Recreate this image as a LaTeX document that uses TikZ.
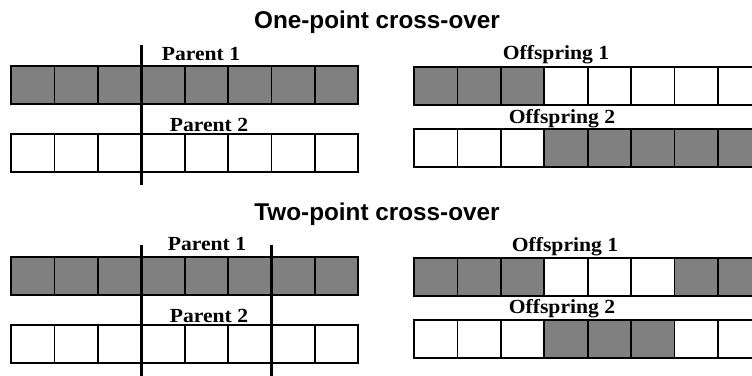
\documentclass[tikz,border=0pt]{standalone}
\usepackage{fontspec}
\setmainfont{Liberation Serif}
\setsansfont{Liberation Sans}
\newfontfamily\lblfont{Liberation Serif}[FakeStretch=1.08]
\usetikzlibrary{positioning}

\tikzset{
  gene/.style={draw=black, line width=1.8pt, inner sep=0pt, outer sep=0pt, minimum width=43.4pt, minimum height=38pt, anchor=north west},
  gene1/.style={gene, fill=gray},
  gene0/.style={gene, fill=white},
  cut/.style={line width=3pt, black},
  lbl/.style={font=\lblfont\bfseries\fontsize{20}{20}\selectfont, anchor=base, inner sep=0pt},
  ttl/.style={font=\sffamily\bfseries\fontsize{24.3}{25}\selectfont, anchor=base, inner sep=0pt}
}

% one chromosome: name, x and y of its top left corner, genes
\newcommand{\chrom}[4]{
  \foreach \g [count=\i from 0] in {#4}
    \node[gene\g] (#1-\i) at ({#2+\i*43.4},#3) {};
}

\begin{document}
\begin{tikzpicture}[x=1pt, y=-1pt]
\clip (0,0) rectangle (752,375);
\fill[white] (0,0) rectangle (752,375);
% one-point
\node[ttl] (onept) at (377,28) {One-point cross-over};
\chrom{pa}{11}{66}{1,1,1,1,1,1,1,1}
\chrom{pb}{11}{134}{0,0,0,0,0,0,0,0}
\chrom{oa}{414}{67}{1,1,1,0,0,0,0,0}
\chrom{ob}{414}{129}{0,0,0,1,1,1,1,1}
\node[lbl] (pa-lbl) at (201,60) {Parent 1};
\node[lbl] (pb-lbl) at (209,131) {Parent 2};
\node[lbl] (oa-lbl) at (556,59) {Offspring 1};
\node[lbl] (ob-lbl) at (562,123) {Offspring 2};
\draw[cut] ([yshift=21pt]pa-3.north west) -- ([yshift=-13pt]pb-3.south west);
% two-point
\node[ttl] (twopt) at (377,220) {Two-point cross-over};
\chrom{pc}{11}{257}{1,1,1,1,1,1,1,1}
\chrom{pd}{11}{325}{0,0,0,0,0,0,0,0}
\chrom{oc}{414}{258}{1,1,1,0,0,0,1,1}
\chrom{od}{414}{320}{0,0,0,1,1,1,0,0}
\node[lbl] (pc-lbl) at (207,250) {Parent 1};
\node[lbl] (pd-lbl) at (209,322) {Parent 2};
\node[lbl] (oc-lbl) at (565,251) {Offspring 1};
\node[lbl] (od-lbl) at (562,313) {Offspring 2};
\draw[cut] ([yshift=12pt]pc-3.north west) -- ([yshift=-20pt]pd-3.south west);
\draw[cut] ([yshift=12pt]pc-6.north west) -- ([yshift=-20pt]pd-6.south west);
\end{tikzpicture}
\end{document}
